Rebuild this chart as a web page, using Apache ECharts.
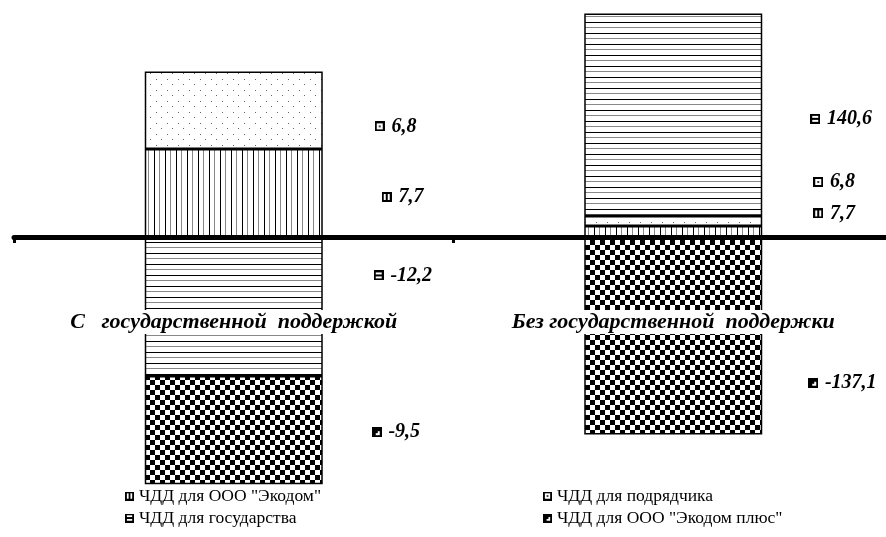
<!DOCTYPE html>
<html>
<head>
<meta charset="utf-8">
<script src="https://cdn.jsdelivr.net/npm/echarts@6/dist/echarts.min.js"></script>
<style>
  html, body { margin: 0; background: #fff; }
  #chart { width: 886px; height: 537px; }
</style>
</head>
<body>
<div id="chart"></div>
<script>
// data
var categories = ['С   государственной  поддержкой', 'Без государственной  поддержки'];
var seriesNames = ['ЧДД для ООО "Экодом"', 'ЧДД для подрядчика', 'ЧДД для государства', 'ЧДД для ООО "Экодом плюс"'];
var withSupport = [7.7, 6.8, -12.2, -9.5];
var withoutSupport = [7.7, 6.8, 140.6, -137.1];

var serif = 'Liberation Serif, Times New Roman, serif';

// hatch tiles, like the old excel fills
function tile(w, h, draw) {
    var c = document.createElement('canvas');
    c.width = w;
    c.height = h;
    var g = c.getContext('2d');
    g.fillStyle = '#fff';
    g.fillRect(0, 0, w, h);
    draw(g);
    return c;
}

var fills = [
    tile(11, 11, function(g) { // vertical lines
        g.fillStyle = '#000'; g.fillRect(0, 0, 1, 11);
        g.fillStyle = '#888'; g.fillRect(5, 0, 1, 11);
    }),
    tile(11, 11, function(g) { // dots
        g.fillStyle = '#666';
        g.fillRect(2, 2, 1, 1);
        g.fillRect(7, 7, 1, 1);
    }),
    tile(11, 11, function(g) { // horizontal lines
        g.fillStyle = '#000'; g.fillRect(0, 0, 11, 1);
        g.fillStyle = '#888'; g.fillRect(0, 5, 11, 1);
    }),
    tile(10, 10, function(g) { // checker
        g.fillStyle = '#000';
        g.fillRect(0, 0, 5, 5);
        g.fillRect(5, 5, 5, 5);
    })
];

// small square markers for labels and legend
var icons = [
    tile(10, 10, function(g) {
        g.fillStyle = '#000'; g.fillRect(0, 0, 10, 10);
        g.fillStyle = '#fff'; g.fillRect(2, 2, 6, 6);
        g.fillStyle = '#000'; g.fillRect(4, 2, 2, 6);
    }),
    tile(10, 10, function(g) {
        g.fillStyle = '#000'; g.fillRect(0, 0, 10, 10);
        g.fillStyle = '#fff'; g.fillRect(2, 2, 6, 6);
        g.fillStyle = '#444'; g.fillRect(4, 4, 2, 2);
    }),
    tile(10, 10, function(g) {
        g.fillStyle = '#000'; g.fillRect(0, 0, 10, 10);
        g.fillStyle = '#fff'; g.fillRect(2, 2, 6, 6);
        g.fillStyle = '#000'; g.fillRect(2, 4, 6, 2);
    }),
    tile(10, 10, function(g) {
        g.fillStyle = '#000'; g.fillRect(0, 0, 10, 10);
        g.fillStyle = '#fff'; g.fillRect(4, 4, 4, 4);
        g.fillStyle = '#000'; g.fillRect(4, 4, 2, 2);
    })
];

// label nudges [bar][segment]
var labelOffsets = [
    [[54, 4], [47, 16], [46, -31], [44, 2]],
    [[46, -18], [46, -39], [43, 4], [41, 47]]
];

var series = [];
[withSupport, withoutSupport].forEach(function(vals, k) {
    vals.forEach(function(v, i) {
        series.push({
            type: 'bar',
            name: seriesNames[i],
            stack: 'npv',
            yAxisIndex: k,
            barWidth: 178,
            data: k === 0 ? [v, '-'] : ['-', v],
            itemStyle: {
                color: { image: fills[i], repeat: 'repeat' },
                borderColor: '#000',
                borderWidth: 1.5
            },
            emphasis: { disabled: true },
            label: {
                show: true,
                position: 'right',
                offset: labelOffsets[k][i],
                formatter: function(p) {
                    return '{i|}  {v|' + String(p.value).replace('.', ',') + '}';
                },
                rich: {
                    i: { width: 10, height: 10, backgroundColor: { image: icons[i] } },
                    v: { fontFamily: serif, fontSize: 20, fontWeight: 'bold', fontStyle: 'italic', color: '#000' }
                }
            }
        });
    });
});

function legendItems(idx) {
    return idx.map(function(i) {
        return { name: seriesNames[i], icon: 'image://' + icons[i].toDataURL() };
    });
}

var legendText = { fontFamily: serif, fontSize: 17.5, color: '#000' };

var myChart = echarts.init(document.getElementById('chart'));
var option = {
    animation: false,
    backgroundColor: '#fff',
    grid: { left: 14, right: -7, top: 10, bottom: 47, containLabel: false, outerBoundsMode: 'none' },
    legend: [{
        orient: 'vertical',
        left: 125,
        top: 487,
        padding: 0,
        itemWidth: 9,
        itemHeight: 9,
        itemGap: 4,
        selectedMode: false,
        textStyle: legendText,
        data: legendItems([0, 2])
    }, {
        orient: 'vertical',
        left: 543,
        top: 487,
        padding: 0,
        itemWidth: 9,
        itemHeight: 9,
        itemGap: 4,
        selectedMode: false,
        textStyle: legendText,
        data: legendItems([1, 3])
    }],
    xAxis: [{
        // the thick zero line
        type: 'category',
        data: categories,
        z: 10,
        axisLine: { lineStyle: { color: '#000', width: 5 } },
        axisTick: { show: true, length: 6, lineStyle: { color: '#000', width: 3 } },
        axisLabel: { show: false }
    }, {
        // category captions, sitting over the bars
        type: 'category',
        data: categories,
        position: 'bottom',
        offset: -180,
        z: 10,
        axisLine: { show: false },
        axisTick: { show: false },
        axisLabel: {
            margin: 0,
            fontFamily: serif,
            fontSize: 22,
            fontWeight: 'bold',
            fontStyle: 'italic',
            color: '#000',
            backgroundColor: '#fff',
            padding: [1, 3]
        }
    }],
    yAxis: [
        { type: 'value', show: false, min: -22.2, max: 19.9 },
        { type: 'value', show: false, min: -175.7, max: 157.6 }
    ],
    series: series
};
myChart.setOption(option);
</script>
</body>
</html>
